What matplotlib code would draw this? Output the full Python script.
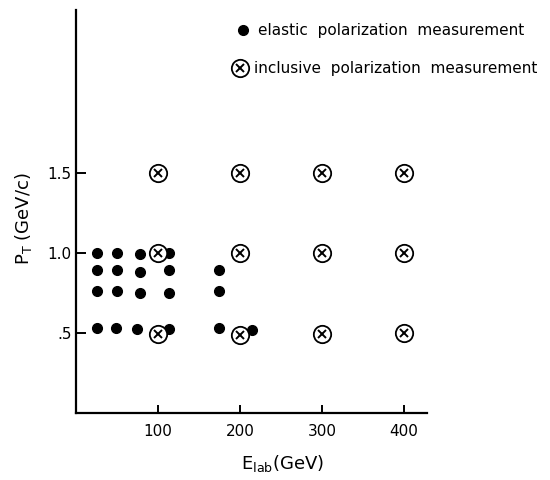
import matplotlib
matplotlib.use("Agg")
import matplotlib.pyplot as plt

# elastic polarization measurements (E_lab in GeV, P_T in GeV/c)
elastic_E = [26, 50, 78, 114,
             26, 50, 78, 114, 175,
             26, 50, 78, 114, 175,
             26, 49, 75, 113, 174, 215]
elastic_PT = [1.0, 1.0, 0.995, 1.0,
              0.89, 0.89, 0.88, 0.89, 0.89,
              0.76, 0.76, 0.75, 0.75, 0.76,
              0.53, 0.53, 0.525, 0.525, 0.53, 0.52]

# inclusive polarization measurements
inclusive_E = [100, 200, 300, 400,
               100, 200, 300, 400,
               100, 200, 300, 400]
inclusive_PT = [1.5, 1.5, 1.5, 1.5,
                1.0, 1.0, 1.0, 1.0,
                0.49, 0.485, 0.49, 0.5]

xticks = [100, 200, 300, 400]
yticks = [0.5, 1.0, 1.5]
ytick_labels = [".5", "1.0", "1.5"]

plt.rcParams["font.family"] = "DejaVu Sans"

fig = plt.figure(figsize=(5.5, 4.8), dpi=100)
ax = fig.add_axes([0.138, 0.14, 0.638, 0.84])

ax.plot(elastic_E, elastic_PT, "o", color="black", markersize=7, linestyle="none")
ax.plot(inclusive_E, inclusive_PT, "o", markerfacecolor="white", markeredgecolor="black",
        markeredgewidth=1.3, markersize=12.5, linestyle="none")
ax.plot(inclusive_E, inclusive_PT, "x", color="black", markeredgewidth=1.4,
        markersize=5.5, linestyle="none")

ax.set_xlim(0, 428)
ax.set_ylim(0, 2.52)
ax.set_xticks(xticks)
ax.set_xticklabels([str(v) for v in xticks])
ax.set_yticks(yticks)
ax.set_yticklabels(ytick_labels)
ax.tick_params(axis="both", direction="in", width=1.4, labelsize=11)
ax.tick_params(axis="y", length=7, pad=3)
ax.tick_params(axis="x", length=6, pad=8)

for side in ("top", "right"):
    ax.spines[side].set_visible(False)
for side in ("left", "bottom"):
    ax.spines[side].set_linewidth(1.6)

fig.text(0.042, 0.545, r"P$_{\mathregular{T}}$ (GeV/c)", rotation=90,
         ha="center", va="center", fontsize=13)
fig.text(0.513, 0.035, r"E$_{\mathregular{lab}}$(GeV)", ha="center", va="center",
         fontsize=13)

# hand-drawn key in the upper right
ax.plot([0.442], [0.9375], "o", color="black", markersize=7,
        transform=fig.transFigure, clip_on=False)
fig.text(0.47, 0.9375, "elastic  polarization  measurement", ha="left", va="center",
         fontsize=11)
ax.plot([0.437], [0.858], "o", markerfacecolor="white", markeredgecolor="black",
        markeredgewidth=1.3, markersize=12.5, transform=fig.transFigure, clip_on=False)
ax.plot([0.437], [0.858], "x", color="black", markeredgewidth=1.4, markersize=5.5,
        transform=fig.transFigure, clip_on=False)
fig.text(0.462, 0.858, "inclusive  polarization  measurement", ha="left", va="center",
         fontsize=11)

fig.savefig("out.png", dpi=100)
